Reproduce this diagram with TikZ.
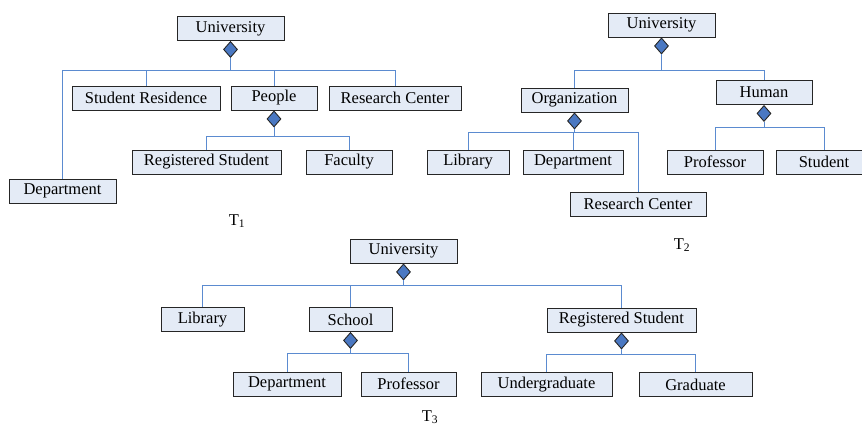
\documentclass[tikz,border=0pt]{standalone}
\usepackage{fontspec}
\setmainfont{Liberation Serif}
\usetikzlibrary{shapes.geometric}
\definecolor{boxfill}{HTML}{E4EBF6}
\definecolor{linkblue}{HTML}{5B8BD0}
\definecolor{diafill}{HTML}{4A78C2}
\tikzset{
  cls/.style={draw=black!85, fill=boxfill, line width=1pt, minimum height=24pt,
    inner sep=0pt, font=\fontsize{16.5}{19}\selectfont, anchor=center},
  agg/.style={diamond, draw=black!85, fill=diafill, line width=0.9pt, inner sep=0pt,
    minimum width=14pt, minimum height=16pt, anchor=north},
  link/.style={draw=linkblue, line width=1pt},
  tlabel/.style={font=\fontsize{16.5}{19}\selectfont, inner sep=0pt}
}
\begin{document}
\begin{tikzpicture}[x=1pt, y=-1pt]
\useasboundingbox (0,0) rectangle (862,426);
\clip (0,0) rectangle (862,426);

% ---------- T1 ----------
\node[cls, minimum width=107pt] (u1) at (230.5,28.5) {University};
\node[agg] (u1d) at (u1.south) {};
\node[cls, minimum width=148pt] (sres1) at (146,98) {Student Residence};
\node[cls, minimum width=86pt] (peo1) at (274,98) {People};
\node[cls, minimum width=132pt] (rc1) at (395,98) {Research Center};
\node[cls, minimum width=107pt] (dep1) at (62.5,191) {Department};
\node[agg] (peo1d) at (peo1.south) {};
\node[cls, minimum width=149pt] (rs1) at (206.5,162) {Registered Student};
\node[cls, minimum width=86pt] (fac1) at (349,162) {Faculty};
\node[tlabel] (t1) at (237,221) {T\textsubscript{1}};

\coordinate (b1) at (230.5,70);
\coordinate (b1p) at (274,136);
\draw[link] (u1d.south) -- (b1);
\draw[link] (b1) -| (dep1.north);
\draw[link] (b1) -| (sres1.north);
\draw[link] (b1) -| (peo1.north);
\draw[link] (b1) -| (rc1.north);
\draw[link] (peo1d.south) -- (b1p);
\draw[link] (b1p) -| (rs1.north);
\draw[link] (b1p) -| (fac1.north);

% ---------- T2 ----------
\node[cls, minimum width=107pt] (u2) at (661.5,25) {University};
\node[agg] (u2d) at (u2.south) {};
\node[cls, minimum width=107pt] (org2) at (574.5,100) {Organization};
\node[cls, minimum width=96pt] (hum2) at (764,92.5) {Human};
\node[agg] (org2d) at (org2.south) {};
\node[cls, minimum width=82pt] (lib2) at (468,162) {Library};
\node[cls, minimum width=100pt] (dep2) at (573,162) {Department};
\node[cls, minimum width=136pt] (rc2) at (638,204) {Research Center};
\node[agg] (hum2d) at (hum2.south) {};
\node[cls, minimum width=96pt] (prof2) at (715,162) {Professor};
\node[cls, minimum width=96pt] (stu2) at (824,162) {Student};
\node[tlabel] (t2) at (682,245) {T\textsubscript{2}};

\coordinate (b2) at (661.5,70);
\coordinate (b2o) at (574.5,132);
\coordinate (b2h) at (764,127);
\draw[link] (u2d.south) -- (b2);
\draw[link] (b2) -| (org2.north);
\draw[link] (b2) -| (hum2.north);
\draw[link] (org2d.south) -- (b2o);
\draw[link] (b2o) -| (lib2.north);
\draw[link] (b2o) -| (dep2.north);
\draw[link] (b2o) -| (rc2.north);
\draw[link] (hum2d.south) -- (b2h);
\draw[link] (b2h) -| (prof2.north);
\draw[link] (b2h) -| (stu2.north);

% ---------- T3 ----------
\node[cls, minimum width=107pt] (u3) at (403.5,251) {University};
\node[agg] (u3d) at (u3.south) {};
\node[cls, minimum width=83pt] (lib3) at (202.5,319.5) {Library};
\node[cls, minimum width=83pt] (sch3) at (350.5,319.5) {School};
\node[cls, minimum width=149pt] (rs3) at (621.5,320) {Registered Student};
\node[agg] (sch3d) at (sch3.south) {};
\node[cls, minimum width=108pt] (dep3) at (287,384) {Department};
\node[cls, minimum width=95pt] (prof3) at (408.5,384) {Professor};
\node[agg] (rs3d) at (rs3.south) {};
\node[cls, minimum width=131pt] (ug3) at (546.5,384.5) {Undergraduate};
\node[cls, minimum width=113pt] (gr3) at (695.5,384.5) {Graduate};
\node[tlabel] (t3) at (430,417) {T\textsubscript{3}};

\coordinate (b3) at (403.5,285);
\coordinate (b3s) at (350.5,353);
\coordinate (b3r) at (621.5,354);
\draw[link] (u3d.south) -- (b3);
\draw[link] (b3) -| (lib3.north);
\draw[link] (b3) -| (sch3.north);
\draw[link] (b3) -| (rs3.north);
\draw[link] (sch3d.south) -- (b3s);
\draw[link] (b3s) -| (dep3.north);
\draw[link] (b3s) -| (prof3.north);
\draw[link] (rs3d.south) -- (b3r);
\draw[link] (b3r) -| (ug3.north);
\draw[link] (b3r) -| (gr3.north);
\end{tikzpicture}
\end{document}
